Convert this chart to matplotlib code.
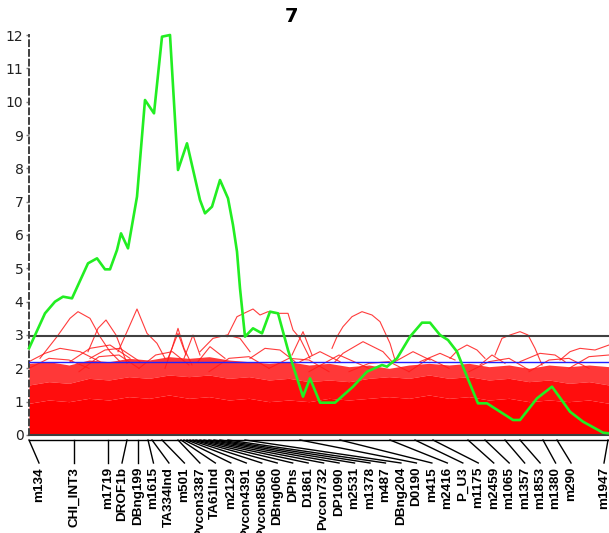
import matplotlib
matplotlib.use("Agg")
import matplotlib.pyplot as plt
import matplotlib.transforms as mtransforms

# chromosome 7 markers (position in cM)
markers = ["m134", "CHI_INT3", "m1719", "DROF1b", "DBng199", "m1615", "TA334Ind",
           "m501", "Pvcon3387", "TA61Ind", "m2129", "Pvcon4391", "Pvcon8506",
           "DBng060", "DPhs", "D1861", "Pvcon732", "DP1090", "m2531", "m1378",
           "m487", "DBng204", "D0190", "m415", "m2416", "P_U3", "m1175", "m2459",
           "m1065", "m1357", "m1853", "m1380", "m290", "m1947"]
marker_pos = [0.0, 13.5, 23.7, 29.4, 32.7, 35.7, 36.9, 39.9, 44.7, 45.6, 46.5,
              47.4, 48.3, 49.2, 50.1, 51.3, 52.5, 54.0, 55.5, 57.3, 59.7, 64.8,
              81.3, 93.3, 108.3, 115.8, 121.2, 131.7, 136.8, 142.8, 147.3, 154.2,
              158.4, 173.7]

# observed LOD profile
lod_pos = [0.0, 4.8, 7.8, 10.2, 12.9, 17.7, 20.4, 22.8, 24.3, 26.4, 27.6, 29.7,
           32.4, 34.8, 37.5, 39.9, 42.3, 44.7, 47.4, 51.3, 52.8, 54.9, 57.3,
           59.7, 61.2, 62.4, 63.3, 64.8, 67.2, 69.9, 72.3, 74.7, 77.7, 82.2,
           84.3, 87.3, 91.8, 97.2, 101.4, 105.9, 107.4, 110.4, 114.3, 117.9,
           120.3, 123.3, 125.7, 128.4, 131.4, 134.7, 137.4, 145.2, 147.3, 152.4,
           156.9, 162.3, 166.2, 172.2, 174.0]
lod = [2.6, 3.65, 4.0, 4.15, 4.1, 5.15, 5.3, 4.97, 4.97, 5.55, 6.05, 5.6, 7.15,
       10.05, 9.65, 11.95, 12.0, 7.95, 8.75, 7.05, 6.65, 6.85, 7.65, 7.1, 6.3,
       5.5, 4.4, 2.95, 3.2, 3.05, 3.7, 3.65, 2.55, 1.15, 1.7, 0.97, 0.97, 1.45,
       1.9, 2.1, 2.05, 2.3, 2.95, 3.37, 3.37, 3.0, 2.85, 2.5, 1.75, 0.95, 0.95,
       0.45, 0.45, 1.1, 1.45, 0.7, 0.4, 0.07, 0.05]

# permutation cloud: envelopes of the dense part (every 6 cM)
perm_grid = [0, 6, 12, 18, 24, 30, 36, 42, 48, 54, 60, 66, 72, 78, 84, 90, 96,
             102, 108, 114, 120, 126, 132, 138, 144, 150, 156, 162, 168, 174]
perm_solid = [0.95, 1.05, 1.0, 1.1, 1.05, 1.15, 1.1, 1.2, 1.1, 1.15, 1.05, 1.1,
              1.0, 1.05, 1.0, 1.1, 1.05, 1.1, 1.15, 1.1, 1.2, 1.1, 1.15, 1.05,
              1.1, 1.0, 1.05, 1.0, 1.05, 0.95]
perm_dense = [1.5, 1.6, 1.55, 1.7, 1.65, 1.75, 1.7, 1.8, 1.75, 1.8, 1.7, 1.75,
              1.65, 1.7, 1.6, 1.65, 1.6, 1.7, 1.75, 1.7, 1.8, 1.7, 1.75, 1.65,
              1.7, 1.6, 1.65, 1.55, 1.6, 1.5]
perm_sparse = [2.15, 2.2, 2.1, 2.25, 2.2, 2.3, 2.25, 2.35, 2.3, 2.35, 2.25, 2.2,
               2.15, 2.2, 2.1, 2.15, 2.05, 2.1, 2.0, 2.1, 2.15, 2.1, 2.15, 2.05,
               2.1, 2.0, 2.1, 2.05, 2.1, 2.05]

# permutation curves that stick out above the cloud
perm_x = [
    [3.3, 8.4, 12.3, 14.7, 18.3, 21.3, 24.3, 27.3],
    [17.7, 20.7, 23.1, 26.1, 29.4],
    [26.7, 29.4, 32.4, 35.4, 38.4, 40.8],
    [40.8, 42.9, 44.7, 46.5, 48.9],
    [41.7, 44.7, 47.1],
    [46.5, 49.2, 51.3],
    [50.7, 54.3, 58.8],
    [0.0, 4.8, 9.3, 15.3, 21.3],
    [12.3, 18.3, 24.3, 30.3],
    [18.3, 22.8, 27.3, 33.3],
    [59.4, 62.4, 67.2, 69.3, 71.7, 74.4, 77.7, 79.2, 81.3, 84.3],
    [51.3, 55.2, 59.4, 63.3, 66.3],
    [78.9, 82.2, 84.9],
    [90.9, 92.4, 94.2, 96.9, 99.9, 102.9, 105.3, 108.3, 109.8],
    [91.8, 94.2, 100.2, 106.2, 108.9],
    [109.8, 115.2, 120.3],
    [139.8, 141.9, 144.3, 147.3, 149.7, 151.8, 153.9],
    [126.3, 128.7, 131.4, 134.4, 136.8],
    [159.3, 162.3, 165.3, 169.8, 174.0],
    [66.3, 70.8, 75.3, 79.8],
    [81.3, 87.3, 93.3],
    [117.3, 123.3, 127.8],
    [147.3, 153.3, 157.8, 160.8],
    [135.3, 138.9, 142.8],
    [0, 6, 12, 18],
    [15, 21, 27, 33],
    [33, 38, 43, 48],
    [54, 60, 66, 72],
    [72, 78, 84, 90],
    [96, 102, 108, 114],
    [114, 120, 126],
    [132, 138, 144, 150],
    [150, 156, 162, 168],
    [162, 168, 174],
    [84, 93, 102],
]
perm_y = [
    [2.3, 2.95, 3.5, 3.7, 3.5, 2.95, 2.5, 2.2],
    [2.5, 3.2, 3.45, 3.0, 2.15],
    [2.5, 3.1, 3.78, 3.05, 2.75, 2.3],
    [2.0, 2.6, 3.2, 2.6, 2.1],
    [2.3, 3.05, 2.4],
    [2.3, 3.0, 2.4],
    [2.2, 2.65, 2.3],
    [2.2, 2.45, 2.6, 2.5, 2.2],
    [2.2, 2.6, 2.7, 2.3],
    [2.3, 2.55, 2.6, 2.2],
    [2.95, 3.55, 3.78, 3.6, 3.7, 3.65, 3.65, 3.15, 2.9, 2.3],
    [2.5, 2.9, 3.0, 2.9, 2.5],
    [2.4, 3.1, 2.4],
    [2.6, 2.95, 3.25, 3.55, 3.7, 3.6, 3.4, 2.75, 2.25],
    [2.2, 2.45, 2.8, 2.5, 2.2],
    [2.2, 2.5, 2.25],
    [2.4, 2.9, 3.0, 3.1, 3.0, 2.6, 2.1],
    [2.3, 2.55, 2.7, 2.55, 2.3],
    [2.25, 2.5, 2.6, 2.55, 2.7],
    [2.3, 2.6, 2.55, 2.2],
    [2.2, 2.5, 2.2],
    [2.2, 2.45, 2.25],
    [2.2, 2.45, 2.4, 2.2],
    [2.1, 2.4, 2.15],
    [2.0, 2.3, 2.25, 2.0],
    [1.9, 2.35, 2.4, 2.0],
    [2.0, 2.4, 2.5, 2.1],
    [1.9, 2.3, 2.35, 2.0],
    [2.0, 2.3, 2.25, 1.9],
    [1.9, 2.15, 2.2, 1.9],
    [1.9, 2.3, 2.0],
    [1.9, 2.2, 2.3, 1.95],
    [1.9, 2.25, 2.3, 2.0],
    [2.0, 2.35, 2.4],
    [1.9, 2.4, 2.0],
]

thr_high = 2.98
thr_low = 2.19

fig = plt.figure(figsize=(6.09, 5.33), dpi=100)
ax = fig.add_axes([29 / 609, 98 / 533, 580 / 609, 400 / 533])
ax.set_xlim(0, 174)
ax.set_ylim(0, 12)

# permutation cloud
ax.fill_between(perm_grid, 0, perm_solid, color="#ff0000", lw=0, zorder=1)
ax.fill_between(perm_grid, perm_solid, perm_dense, color="#ff0000", alpha=0.95,
                lw=0, zorder=1)
ax.fill_between(perm_grid, perm_dense, perm_sparse, color="#ff0000", alpha=0.78,
                lw=0, zorder=1)
for xs, ys in zip(perm_x, perm_y):
    ax.plot(xs, ys, color="#ff1a1a", lw=0.8, alpha=0.85, zorder=2)

# thresholds and zero line
ax.axhline(thr_high, color="#404040", lw=1.5, zorder=3)
ax.axhline(thr_low, color="#2020ff", lw=1.0, zorder=3)
ax.axhline(0, color="#404040", lw=1.5, zorder=3, clip_on=False)

ax.plot(lod_pos, lod, color="#22ee22", lw=1.9, zorder=5, clip_on=False)

# axes styling
for s in ["top", "right", "bottom"]:
    ax.spines[s].set_visible(False)
ax.spines["left"].set_linestyle((0, (3, 2)))
ax.spines["left"].set_color("#404040")
ax.spines["left"].set_linewidth(1.4)
ax.set_xticks([])
ax.set_yticks(range(0, 13))
ax.tick_params(axis="y", length=2, width=1, color="#808080", pad=2,
               labelsize=10, labelcolor="#222222")

# marker map below the plot
trans = mtransforms.blended_transform_factory(ax.transData, ax.transAxes)
ax.plot([0, 174], [-0.0125, -0.0125], color="black", lw=1, transform=trans,
        clip_on=False)
step = 4.64
label_x = [3.0, 13.5, 23.7, 27.9] + [32.7 + step * i for i in range(29)] + [172.5]
for name, pos, lx in zip(markers, marker_pos, label_x):
    ax.plot([pos, lx], [-0.0125, -0.07], color="black", lw=1, transform=trans,
            clip_on=False)
    ax.text(lx, -0.08, name, rotation=90, ha="center", va="top", fontsize=9.7,
            fontweight="bold", family=["Liberation Sans", "DejaVu Sans"],
            transform=trans, clip_on=False)

fig.text(292 / 609, 1 - 16 / 533, "7", ha="center", va="center", fontsize=14,
         fontweight="bold")

fig.savefig("out.png", dpi=100)
